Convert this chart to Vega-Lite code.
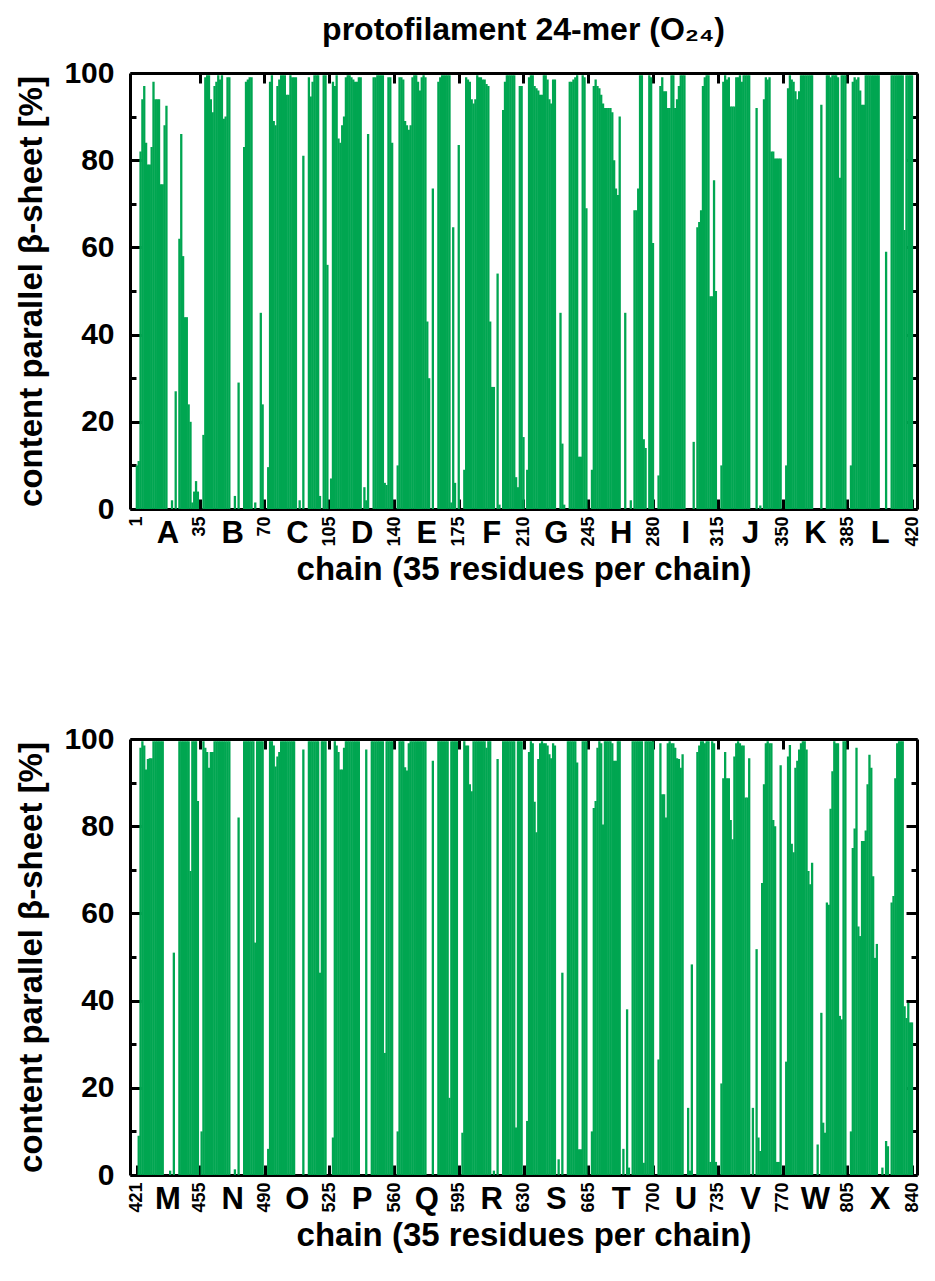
{
  "$schema": "https://vega.github.io/schema/vega-lite/v6.json",
  "background": "white",
  "padding": {"left": 15, "top": 14, "right": 5, "bottom": 5},
  "config": {
    "view": {"stroke": null},
    "font": "Liberation Sans",
    "axis": {
      "labelFont": "Liberation Sans", "labelFontWeight": "bold", "labelColor": "black",
      "titleFont": "Liberation Sans", "titleFontWeight": "bold", "titleColor": "black",
      "domainColor": "black", "tickColor": "black", "grid": false, "zindex": 1
    }
  },
  "datasets": {
    "top": [
      {"r":1,"v":10},{"r":2,"v":11},{"r":3,"v":82},{"r":4,"v":94},{"r":5,"v":97},{"r":6,"v":84},{"r":7,"v":79},{"r":8,"v":79},{"r":9,"v":83},{"r":10,"v":98},{"r":11,"v":94},{"r":12,"v":94},{"r":13,"v":94},{"r":14,"v":74.5},{"r":15,"v":74.5},{"r":16,"v":88},{"r":17,"v":92.5},{"r":18,"v":0},{"r":19,"v":0},{"r":20,"v":2},{"r":21,"v":0},{"r":22,"v":27},{"r":23,"v":0},{"r":24,"v":62},{"r":25,"v":86},{"r":26,"v":58},{"r":27,"v":44},{"r":28,"v":44},{"r":29,"v":24},{"r":30,"v":20},{"r":31,"v":1.5},{"r":32,"v":4},{"r":33,"v":6.4},{"r":34,"v":4},{"r":35,"v":0},
      {"r":36,"v":0},{"r":37,"v":17},{"r":38,"v":99},{"r":39,"v":99.5},{"r":40,"v":99.5},{"r":41,"v":94},{"r":42,"v":91},{"r":43,"v":97},{"r":44,"v":98},{"r":45,"v":99.5},{"r":46,"v":98.5},{"r":47,"v":99.5},{"r":48,"v":89.5},{"r":49,"v":90},{"r":50,"v":99},{"r":51,"v":99},{"r":52,"v":0},{"r":53,"v":0},{"r":54,"v":3},{"r":55,"v":0},{"r":56,"v":29},{"r":57,"v":0},{"r":58,"v":0},{"r":59,"v":83},{"r":60,"v":98},{"r":61,"v":98.5},{"r":62,"v":99},{"r":63,"v":99},{"r":64,"v":0},{"r":65,"v":1.5},{"r":66,"v":0},{"r":67,"v":0},{"r":68,"v":45},{"r":69,"v":24},{"r":70,"v":0},
      {"r":71,"v":0},{"r":72,"v":9.6},{"r":73,"v":98},{"r":74,"v":99.5},{"r":75,"v":89},{"r":76,"v":88},{"r":77,"v":97},{"r":78,"v":98.5},{"r":79,"v":99.5},{"r":80,"v":99.5},{"r":81,"v":99.5},{"r":82,"v":95},{"r":83,"v":95},{"r":84,"v":99.5},{"r":85,"v":99},{"r":86,"v":99},{"r":87,"v":99},{"r":88,"v":0},{"r":89,"v":2},{"r":90,"v":0},{"r":91,"v":81},{"r":92,"v":0},{"r":93,"v":0},{"r":94,"v":99},{"r":95,"v":94.6},{"r":96,"v":98},{"r":97,"v":99.5},{"r":98,"v":99.5},{"r":99,"v":99.5},{"r":100,"v":3},{"r":101,"v":0},{"r":102,"v":99.5},{"r":103,"v":99.5},{"r":104,"v":56},{"r":105,"v":0},
      {"r":106,"v":7},{"r":107,"v":98},{"r":108,"v":97},{"r":109,"v":99.5},{"r":110,"v":85},{"r":111,"v":84},{"r":112,"v":88},{"r":113,"v":90},{"r":114,"v":99},{"r":115,"v":99.5},{"r":116,"v":99.5},{"r":117,"v":99},{"r":118,"v":98.5},{"r":119,"v":98},{"r":120,"v":98},{"r":121,"v":99},{"r":122,"v":99},{"r":123,"v":0},{"r":124,"v":5},{"r":125,"v":2},{"r":126,"v":86},{"r":127,"v":0},{"r":128,"v":0},{"r":129,"v":99},{"r":130,"v":99},{"r":131,"v":99.5},{"r":132,"v":99.5},{"r":133,"v":99.5},{"r":134,"v":99.5},{"r":135,"v":6},{"r":136,"v":5.5},{"r":137,"v":99},{"r":138,"v":99},{"r":139,"v":84},{"r":140,"v":0},
      {"r":141,"v":0},{"r":142,"v":10},{"r":143,"v":99},{"r":144,"v":99},{"r":145,"v":98.5},{"r":146,"v":89},{"r":147,"v":88},{"r":148,"v":87},{"r":149,"v":88},{"r":150,"v":99},{"r":151,"v":99.5},{"r":152,"v":99.5},{"r":153,"v":98},{"r":154,"v":96},{"r":155,"v":99},{"r":156,"v":99.5},{"r":157,"v":99},{"r":158,"v":43},{"r":159,"v":30},{"r":160,"v":0},{"r":161,"v":73.5},{"r":162,"v":0},{"r":163,"v":0},{"r":164,"v":98},{"r":165,"v":99},{"r":166,"v":99.5},{"r":167,"v":99.5},{"r":168,"v":99.5},{"r":169,"v":99.5},{"r":170,"v":99.5},{"r":171,"v":1.5},{"r":172,"v":64.6},{"r":173,"v":6},{"r":174,"v":0},{"r":175,"v":83.5},
      {"r":176,"v":0},{"r":177,"v":0},{"r":178,"v":9},{"r":179,"v":99},{"r":180,"v":98.5},{"r":181,"v":98},{"r":182,"v":94},{"r":183,"v":93},{"r":184,"v":94},{"r":185,"v":99.5},{"r":186,"v":99},{"r":187,"v":99},{"r":188,"v":98.5},{"r":189,"v":98.5},{"r":190,"v":97.5},{"r":191,"v":97},{"r":192,"v":43},{"r":193,"v":28},{"r":194,"v":28},{"r":195,"v":0},{"r":196,"v":54},{"r":197,"v":1},{"r":198,"v":0},{"r":199,"v":91.5},{"r":200,"v":98},{"r":201,"v":99.5},{"r":202,"v":99.5},{"r":203,"v":99.5},{"r":204,"v":99.5},{"r":205,"v":99.5},{"r":206,"v":7.3},{"r":207,"v":5},{"r":208,"v":97},{"r":209,"v":97},{"r":210,"v":16.5},
      {"r":211,"v":0},{"r":212,"v":9},{"r":213,"v":99},{"r":214,"v":99.5},{"r":215,"v":99.5},{"r":216,"v":97},{"r":217,"v":96.5},{"r":218,"v":96},{"r":219,"v":95},{"r":220,"v":95},{"r":221,"v":99.5},{"r":222,"v":99.5},{"r":223,"v":98.5},{"r":224,"v":94},{"r":225,"v":93},{"r":226,"v":98.5},{"r":227,"v":98.5},{"r":228,"v":0},{"r":229,"v":0},{"r":230,"v":45},{"r":231,"v":15},{"r":232,"v":1},{"r":233,"v":0},{"r":234,"v":0},{"r":235,"v":98},{"r":236,"v":98},{"r":237,"v":98.5},{"r":238,"v":99},{"r":239,"v":99.5},{"r":240,"v":12},{"r":241,"v":12},{"r":242,"v":99.5},{"r":243,"v":99},{"r":244,"v":69},{"r":245,"v":0},
      {"r":246,"v":0},{"r":247,"v":9},{"r":248,"v":97},{"r":249,"v":98.5},{"r":250,"v":97},{"r":251,"v":96.5},{"r":252,"v":95},{"r":253,"v":93},{"r":254,"v":92},{"r":255,"v":92},{"r":256,"v":92},{"r":257,"v":92},{"r":258,"v":91},{"r":259,"v":80},{"r":260,"v":73.5},{"r":261,"v":72},{"r":262,"v":90},{"r":263,"v":0},{"r":264,"v":0},{"r":265,"v":45},{"r":266,"v":0},{"r":267,"v":0},{"r":268,"v":2},{"r":269,"v":0},{"r":270,"v":68.5},{"r":271,"v":68.5},{"r":272,"v":73.5},{"r":273,"v":99.5},{"r":274,"v":99.5},{"r":275,"v":16},{"r":276,"v":14},{"r":277,"v":0},{"r":278,"v":99.5},{"r":279,"v":99},{"r":280,"v":61},
      {"r":281,"v":0},{"r":282,"v":0},{"r":283,"v":7.7},{"r":284,"v":97},{"r":285,"v":99},{"r":286,"v":95.8},{"r":287,"v":95.8},{"r":288,"v":92},{"r":289,"v":92},{"r":290,"v":99.5},{"r":291,"v":99.5},{"r":292,"v":92},{"r":293,"v":94},{"r":294,"v":97},{"r":295,"v":99.5},{"r":296,"v":99.5},{"r":297,"v":99.5},{"r":298,"v":0},{"r":299,"v":0},{"r":300,"v":0},{"r":301,"v":0},{"r":302,"v":15.4},{"r":303,"v":0},{"r":304,"v":64.6},{"r":305,"v":65.8},{"r":306,"v":68.5},{"r":307,"v":97},{"r":308,"v":99},{"r":309,"v":99.5},{"r":310,"v":99.5},{"r":311,"v":48.8},{"r":312,"v":48.8},{"r":313,"v":75.4},{"r":314,"v":50},{"r":315,"v":0},
      {"r":316,"v":0},{"r":317,"v":10},{"r":318,"v":98},{"r":319,"v":99.5},{"r":320,"v":98.5},{"r":321,"v":99},{"r":322,"v":92.3},{"r":323,"v":92.3},{"r":324,"v":92.3},{"r":325,"v":99},{"r":326,"v":99},{"r":327,"v":99.5},{"r":328,"v":98},{"r":329,"v":99.5},{"r":330,"v":99.5},{"r":331,"v":99.5},{"r":332,"v":99.5},{"r":333,"v":0},{"r":334,"v":0},{"r":335,"v":0},{"r":336,"v":92},{"r":337,"v":0},{"r":338,"v":0.8},{"r":339,"v":0},{"r":340,"v":94},{"r":341,"v":99},{"r":342,"v":98.5},{"r":343,"v":99},{"r":344,"v":82},{"r":345,"v":82},{"r":346,"v":80.4},{"r":347,"v":80.4},{"r":348,"v":80.4},{"r":349,"v":80.4},{"r":350,"v":0},
      {"r":351,"v":0},{"r":352,"v":10},{"r":353,"v":96.5},{"r":354,"v":99.5},{"r":355,"v":98.5},{"r":356,"v":98},{"r":357,"v":95.8},{"r":358,"v":94},{"r":359,"v":95.8},{"r":360,"v":99.5},{"r":361,"v":99.5},{"r":362,"v":99.5},{"r":363,"v":99.5},{"r":364,"v":99.5},{"r":365,"v":99.5},{"r":366,"v":99.5},{"r":367,"v":0},{"r":368,"v":0},{"r":369,"v":0},{"r":370,"v":0},{"r":371,"v":92.7},{"r":372,"v":0},{"r":373,"v":0},{"r":374,"v":99.5},{"r":375,"v":99.5},{"r":376,"v":99},{"r":377,"v":99.5},{"r":378,"v":99.5},{"r":379,"v":99.5},{"r":380,"v":99},{"r":381,"v":76},{"r":382,"v":99.5},{"r":383,"v":99.5},{"r":384,"v":99.5},{"r":385,"v":0},
      {"r":386,"v":0},{"r":387,"v":10},{"r":388,"v":98},{"r":389,"v":99},{"r":390,"v":98.5},{"r":391,"v":99},{"r":392,"v":96},{"r":393,"v":92.7},{"r":394,"v":92.7},{"r":395,"v":99.5},{"r":396,"v":99.5},{"r":397,"v":99.5},{"r":398,"v":99.5},{"r":399,"v":99.5},{"r":400,"v":99.5},{"r":401,"v":99.5},{"r":402,"v":99.5},{"r":403,"v":0},{"r":404,"v":0},{"r":405,"v":0},{"r":406,"v":59},{"r":407,"v":0},{"r":408,"v":0},{"r":409,"v":99.5},{"r":410,"v":99.5},{"r":411,"v":99.5},{"r":412,"v":99.5},{"r":413,"v":99.5},{"r":414,"v":99.5},{"r":415,"v":99.5},{"r":416,"v":64},{"r":417,"v":99.5},{"r":418,"v":99.5},{"r":419,"v":99.5},{"r":420,"v":99.5}
    ],
    "bottom": [
      {"r":421,"v":0},{"r":422,"v":9},{"r":423,"v":98},{"r":424,"v":99.5},{"r":425,"v":98.5},{"r":426,"v":93},{"r":427,"v":95.4},{"r":428,"v":95.6},{"r":429,"v":95.6},{"r":430,"v":99.5},{"r":431,"v":99.5},{"r":432,"v":99.5},{"r":433,"v":99.5},{"r":434,"v":99.5},{"r":435,"v":99.5},{"r":436,"v":0},{"r":437,"v":0},{"r":438,"v":0},{"r":439,"v":1},{"r":440,"v":0},{"r":441,"v":51},{"r":442,"v":0},{"r":443,"v":0},{"r":444,"v":99.5},{"r":445,"v":99.5},{"r":446,"v":99.5},{"r":447,"v":99.5},{"r":448,"v":99.5},{"r":449,"v":99.5},{"r":450,"v":69.7},{"r":451,"v":99.5},{"r":452,"v":99.5},{"r":453,"v":99.5},{"r":454,"v":85.8},{"r":455,"v":0},
      {"r":456,"v":10},{"r":457,"v":99.5},{"r":458,"v":98},{"r":459,"v":97},{"r":460,"v":93.4},{"r":461,"v":97},{"r":462,"v":97},{"r":463,"v":99.5},{"r":464,"v":99.5},{"r":465,"v":99.5},{"r":466,"v":99.5},{"r":467,"v":99.5},{"r":468,"v":99.5},{"r":469,"v":99.5},{"r":470,"v":99.5},{"r":471,"v":99.5},{"r":472,"v":0},{"r":473,"v":0},{"r":474,"v":1.3},{"r":475,"v":0},{"r":476,"v":82},{"r":477,"v":0},{"r":478,"v":0},{"r":479,"v":99.5},{"r":480,"v":99.5},{"r":481,"v":99.5},{"r":482,"v":99.5},{"r":483,"v":99.5},{"r":484,"v":99.5},{"r":485,"v":53.3},{"r":486,"v":99.5},{"r":487,"v":99.5},{"r":488,"v":99.5},{"r":489,"v":99.5},{"r":490,"v":0},
      {"r":491,"v":0},{"r":492,"v":6},{"r":493,"v":99.5},{"r":494,"v":99.5},{"r":495,"v":98.5},{"r":496,"v":93.7},{"r":497,"v":96},{"r":498,"v":97},{"r":499,"v":99.5},{"r":500,"v":99.5},{"r":501,"v":99.5},{"r":502,"v":99.5},{"r":503,"v":99.5},{"r":504,"v":99.5},{"r":505,"v":99.5},{"r":506,"v":99.5},{"r":507,"v":0},{"r":508,"v":0},{"r":509,"v":0},{"r":510,"v":0},{"r":511,"v":97.6},{"r":512,"v":0},{"r":513,"v":0},{"r":514,"v":99.5},{"r":515,"v":99.5},{"r":516,"v":99.5},{"r":517,"v":99.5},{"r":518,"v":99.5},{"r":519,"v":99.5},{"r":520,"v":46.4},{"r":521,"v":99.5},{"r":522,"v":99.5},{"r":523,"v":99.5},{"r":524,"v":0},{"r":525,"v":0},
      {"r":526,"v":0},{"r":527,"v":8.6},{"r":528,"v":99.5},{"r":529,"v":98.5},{"r":530,"v":97},{"r":531,"v":93},{"r":532,"v":93},{"r":533,"v":98},{"r":534,"v":99.5},{"r":535,"v":99.5},{"r":536,"v":99.5},{"r":537,"v":99.5},{"r":538,"v":99.5},{"r":539,"v":99.5},{"r":540,"v":99.5},{"r":541,"v":99.5},{"r":542,"v":0},{"r":543,"v":0},{"r":544,"v":0},{"r":545,"v":97.6},{"r":546,"v":0},{"r":547,"v":0},{"r":548,"v":99.5},{"r":549,"v":99.5},{"r":550,"v":99.5},{"r":551,"v":99.5},{"r":552,"v":99.5},{"r":553,"v":99.5},{"r":554,"v":99.5},{"r":555,"v":28},{"r":556,"v":99.5},{"r":557,"v":99.5},{"r":558,"v":99.5},{"r":559,"v":99.5},{"r":560,"v":0},
      {"r":561,"v":0},{"r":562,"v":10},{"r":563,"v":99.5},{"r":564,"v":99.5},{"r":565,"v":99.5},{"r":566,"v":93.5},{"r":567,"v":92.8},{"r":568,"v":99},{"r":569,"v":99.5},{"r":570,"v":99.5},{"r":571,"v":99.5},{"r":572,"v":99.5},{"r":573,"v":99.5},{"r":574,"v":99.5},{"r":575,"v":99.5},{"r":576,"v":99.5},{"r":577,"v":99.5},{"r":578,"v":0},{"r":579,"v":0},{"r":580,"v":0},{"r":581,"v":95},{"r":582,"v":0},{"r":583,"v":0},{"r":584,"v":99.5},{"r":585,"v":99.5},{"r":586,"v":99.5},{"r":587,"v":99.5},{"r":588,"v":99.5},{"r":589,"v":99.5},{"r":590,"v":17.7},{"r":591,"v":99.5},{"r":592,"v":99.5},{"r":593,"v":99.5},{"r":594,"v":99.5},{"r":595,"v":0},
      {"r":596,"v":0},{"r":597,"v":9.7},{"r":598,"v":99.5},{"r":599,"v":98.5},{"r":600,"v":98.5},{"r":601,"v":89.6},{"r":602,"v":88},{"r":603,"v":99.5},{"r":604,"v":99.5},{"r":605,"v":99.5},{"r":606,"v":99.5},{"r":607,"v":99.5},{"r":608,"v":99.5},{"r":609,"v":99.5},{"r":610,"v":98},{"r":611,"v":99.5},{"r":612,"v":99.5},{"r":613,"v":0},{"r":614,"v":1},{"r":615,"v":0},{"r":616,"v":95.4},{"r":617,"v":0},{"r":618,"v":0},{"r":619,"v":99.5},{"r":620,"v":99.5},{"r":621,"v":99.5},{"r":622,"v":99.5},{"r":623,"v":99.5},{"r":624,"v":99.5},{"r":625,"v":99.5},{"r":626,"v":10.9},{"r":627,"v":99.5},{"r":628,"v":99.5},{"r":629,"v":99.5},{"r":630,"v":0},
      {"r":631,"v":0},{"r":632,"v":12.4},{"r":633,"v":97},{"r":634,"v":99.5},{"r":635,"v":99},{"r":636,"v":85.6},{"r":637,"v":78.6},{"r":638,"v":95.4},{"r":639,"v":99},{"r":640,"v":99.5},{"r":641,"v":99},{"r":642,"v":99},{"r":643,"v":98.5},{"r":644,"v":96.5},{"r":645,"v":95.6},{"r":646,"v":99},{"r":647,"v":98.5},{"r":648,"v":0},{"r":649,"v":3.6},{"r":650,"v":0},{"r":651,"v":46.4},{"r":652,"v":0},{"r":653,"v":0},{"r":654,"v":99.5},{"r":655,"v":99.5},{"r":656,"v":99.5},{"r":657,"v":99.5},{"r":658,"v":99.5},{"r":659,"v":94.6},{"r":660,"v":5.9},{"r":661,"v":5.9},{"r":662,"v":99.5},{"r":663,"v":99.5},{"r":664,"v":99.5},{"r":665,"v":0},
      {"r":666,"v":0},{"r":667,"v":10},{"r":668,"v":84.2},{"r":669,"v":85.8},{"r":670,"v":98},{"r":671,"v":99.5},{"r":672,"v":99},{"r":673,"v":80.4},{"r":674,"v":99.5},{"r":675,"v":99.5},{"r":676,"v":99.5},{"r":677,"v":99.5},{"r":678,"v":99},{"r":679,"v":95},{"r":680,"v":95},{"r":681,"v":99.5},{"r":682,"v":99.5},{"r":683,"v":0},{"r":684,"v":6},{"r":685,"v":0},{"r":686,"v":38},{"r":687,"v":1.7},{"r":688,"v":0},{"r":689,"v":99.5},{"r":690,"v":99.5},{"r":691,"v":99.5},{"r":692,"v":99.5},{"r":693,"v":99.5},{"r":694,"v":99.5},{"r":695,"v":2.8},{"r":696,"v":99.5},{"r":697,"v":99.5},{"r":698,"v":99.5},{"r":699,"v":99.5},{"r":700,"v":99.5},
      {"r":701,"v":0},{"r":702,"v":0},{"r":703,"v":26.5},{"r":704,"v":99},{"r":705,"v":87.3},{"r":706,"v":87.3},{"r":707,"v":82},{"r":708,"v":99},{"r":709,"v":99.5},{"r":710,"v":99},{"r":711,"v":99},{"r":712,"v":98},{"r":713,"v":95.6},{"r":714,"v":95.4},{"r":715,"v":93.4},{"r":716,"v":96.5},{"r":717,"v":0},{"r":718,"v":0},{"r":719,"v":15.4},{"r":720,"v":1},{"r":721,"v":48.3},{"r":722,"v":0},{"r":723,"v":0},{"r":724,"v":97},{"r":725,"v":98.5},{"r":726,"v":99.5},{"r":727,"v":99.5},{"r":728,"v":99},{"r":729,"v":99.5},{"r":730,"v":99.5},{"r":731,"v":3},{"r":732,"v":99.5},{"r":733,"v":99},{"r":734,"v":3},{"r":735,"v":0},
      {"r":736,"v":0},{"r":737,"v":21},{"r":738,"v":91},{"r":739,"v":97},{"r":740,"v":91},{"r":741,"v":91},{"r":742,"v":81.4},{"r":743,"v":77},{"r":744,"v":96},{"r":745,"v":99},{"r":746,"v":99.5},{"r":747,"v":99},{"r":748,"v":98.5},{"r":749,"v":98.5},{"r":750,"v":86.6},{"r":751,"v":86.6},{"r":752,"v":95.6},{"r":753,"v":0},{"r":754,"v":15.4},{"r":755,"v":0},{"r":756,"v":51.8},{"r":757,"v":8.6},{"r":758,"v":5.5},{"r":759,"v":67},{"r":760,"v":89.6},{"r":761,"v":99},{"r":762,"v":99.5},{"r":763,"v":99},{"r":764,"v":99},{"r":765,"v":81.4},{"r":766,"v":80},{"r":767,"v":3},{"r":768,"v":3},{"r":769,"v":94},{"r":770,"v":0},
      {"r":771,"v":0},{"r":772,"v":26},{"r":773,"v":96},{"r":774,"v":98.6},{"r":775,"v":76},{"r":776,"v":74},{"r":777,"v":93.4},{"r":778,"v":95},{"r":779,"v":97.6},{"r":780,"v":99},{"r":781,"v":99.5},{"r":782,"v":99.5},{"r":783,"v":97.6},{"r":784,"v":69.7},{"r":785,"v":66.7},{"r":786,"v":71.6},{"r":787,"v":0},{"r":788,"v":0},{"r":789,"v":7},{"r":790,"v":0},{"r":791,"v":37.2},{"r":792,"v":12},{"r":793,"v":9.7},{"r":794,"v":62.5},{"r":795,"v":62},{"r":796,"v":84},{"r":797,"v":92.6},{"r":798,"v":99.5},{"r":799,"v":99},{"r":800,"v":99},{"r":801,"v":36.5},{"r":802,"v":35.7},{"r":803,"v":99.5},{"r":804,"v":99.5},{"r":805,"v":0},
      {"r":806,"v":0},{"r":807,"v":10},{"r":808,"v":75},{"r":809,"v":79.5},{"r":810,"v":98},{"r":811,"v":57},{"r":812,"v":54.8},{"r":813,"v":76.6},{"r":814,"v":76.6},{"r":815,"v":79},{"r":816,"v":89.6},{"r":817,"v":96.4},{"r":818,"v":93.4},{"r":819,"v":68.5},{"r":820,"v":49.8},{"r":821,"v":53},{"r":822,"v":0},{"r":823,"v":0},{"r":824,"v":1.7},{"r":825,"v":0},{"r":826,"v":7.8},{"r":827,"v":6.6},{"r":828,"v":0},{"r":829,"v":62.5},{"r":830,"v":64},{"r":831,"v":91},{"r":832,"v":99},{"r":833,"v":99.5},{"r":834,"v":99.5},{"r":835,"v":99.5},{"r":836,"v":38.7},{"r":837,"v":36},{"r":838,"v":39.5},{"r":839,"v":35},{"r":840,"v":35}
    ]
  },
  "bounds": "flush",
  "spacing": 230,
  "vconcat": [
    {
      "width": 787,
      "height": 436,
      "title": {"text": "protofilament 24-mer (O₂₄)", "font": "Liberation Sans", "fontSize": 32, "fontWeight": "bold", "color": "black", "frame": "group", "anchor": "middle", "offset": 11},
      "data": {"name": "top"},
      "encoding": {
        "x": {"field": "r", "type": "quantitative", "scale": {"domain": [0, 420], "nice": false, "zero": false}},
        "y": {"field": "v", "type": "quantitative", "scale": {"domain": [0, 100], "nice": false}}
      },
      "resolve": {"axis": {"x": "independent", "y": "independent"}},
      "layer": [
        {
          "mark": {"type": "bar", "color": "#00A651", "width": 2.3, "clip": true},
          "encoding": {
            "x": {"field": "r", "type": "quantitative",
                  "axis": {"orient": "bottom", "values": [1, 35, 70, 105, 140, 175, 210, 245, 280, 315, 350, 385, 420], "labelAngle": 270, "labelFontSize": 18, "labelFlush": false, "labelOverlap": false, "labelPadding": 17, "tickSize": -10, "tickWidth": 3, "domainWidth": 3, "title": null}},
            "y": {"field": "v", "type": "quantitative",
                  "axis": {"orient": "left", "values": [0, 20, 40, 60, 80, 100], "labelFontSize": 30, "labelPadding": 27, "labelFlush": false, "labelOverlap": false, "tickSize": -11, "tickWidth": 3, "domainWidth": 3, "title": "content parallel β-sheet [%]", "titleFontSize": 33, "titlePadding": 15}}
          }
        },
        {
          "mark": {"type": "point", "opacity": 0},
          "encoding": {
            "x": {"field": "r", "type": "quantitative",
                  "axis": {"orient": "top", "values": [35, 70, 105, 140, 175, 210, 245, 280, 315, 350, 385], "labels": false, "tickSize": -10, "tickWidth": 3, "domainWidth": 3, "title": null}},
            "y": {"field": "v", "type": "quantitative",
                  "axis": {"orient": "right", "values": [0, 20, 40, 60, 80, 100], "labels": false, "tickSize": -11, "tickWidth": 3, "domainWidth": 3, "title": null}}
          }
        },
        {
          "mark": {"type": "point", "opacity": 0},
          "encoding": {
            "x": {"field": "r", "type": "quantitative",
                  "axis": {"orient": "bottom", "values": [17.5, 52.5, 87.5, 122.5, 157.5, 192.5, 227.5, 262.5, 297.5, 332.5, 367.5, 402.5], "labelExpr": "substring('ABCDEFGHIJKLMNOPQRSTUVWX', floor(datum.value / 35), floor(datum.value / 35) + 1)", "labelAngle": 0, "labelFontSize": 31, "labelFlush": false, "labelOverlap": false, "labelPadding": 9, "ticks": false, "domain": false, "title": "chain (35 residues per chain)", "titleFontSize": 33, "titlePadding": 5}},
            "y": {"field": "v", "type": "quantitative",
                  "axis": {"orient": "left", "values": [10, 30, 50, 70, 90], "labels": false, "tickSize": -6, "tickWidth": 3, "domain": false, "title": null}}
          }
        },
        {
          "mark": {"type": "point", "opacity": 0},
          "encoding": {
            "x": {"field": "r", "type": "quantitative", "axis": null},
            "y": {"field": "v", "type": "quantitative",
                  "axis": {"orient": "right", "values": [10, 30, 50, 70, 90], "labels": false, "tickSize": -6, "tickWidth": 3, "domain": false, "title": null}}
          }
        }
      ]
    },
    {
      "width": 787,
      "height": 436,
      "data": {"name": "bottom"},
      "encoding": {
        "x": {"field": "r", "type": "quantitative", "scale": {"domain": [420, 840], "nice": false, "zero": false}},
        "y": {"field": "v", "type": "quantitative", "scale": {"domain": [0, 100], "nice": false}}
      },
      "resolve": {"axis": {"x": "independent", "y": "independent"}},
      "layer": [
        {
          "mark": {"type": "bar", "color": "#00A651", "width": 2.3, "clip": true},
          "encoding": {
            "x": {"field": "r", "type": "quantitative",
                  "axis": {"orient": "bottom", "values": [421, 455, 490, 525, 560, 595, 630, 665, 700, 735, 770, 805, 840], "labelAngle": 270, "labelFontSize": 18, "labelFlush": false, "labelOverlap": false, "labelPadding": 17, "tickSize": -10, "tickWidth": 3, "domainWidth": 3, "title": null}},
            "y": {"field": "v", "type": "quantitative",
                  "axis": {"orient": "left", "values": [0, 20, 40, 60, 80, 100], "labelFontSize": 30, "labelPadding": 27, "labelFlush": false, "labelOverlap": false, "tickSize": -11, "tickWidth": 3, "domainWidth": 3, "title": "content parallel β-sheet [%]", "titleFontSize": 33, "titlePadding": 15}}
          }
        },
        {
          "mark": {"type": "point", "opacity": 0},
          "encoding": {
            "x": {"field": "r", "type": "quantitative",
                  "axis": {"orient": "top", "values": [455, 490, 525, 560, 595, 630, 665, 700, 735, 770, 805], "labels": false, "tickSize": -10, "tickWidth": 3, "domainWidth": 3, "title": null}},
            "y": {"field": "v", "type": "quantitative",
                  "axis": {"orient": "right", "values": [0, 20, 40, 60, 80, 100], "labels": false, "tickSize": -11, "tickWidth": 3, "domainWidth": 3, "title": null}}
          }
        },
        {
          "mark": {"type": "point", "opacity": 0},
          "encoding": {
            "x": {"field": "r", "type": "quantitative",
                  "axis": {"orient": "bottom", "values": [437.5, 472.5, 507.5, 542.5, 577.5, 612.5, 647.5, 682.5, 717.5, 752.5, 787.5, 822.5], "labelExpr": "substring('ABCDEFGHIJKLMNOPQRSTUVWX', floor(datum.value / 35), floor(datum.value / 35) + 1)", "labelAngle": 0, "labelFontSize": 31, "labelFlush": false, "labelOverlap": false, "labelPadding": 9, "ticks": false, "domain": false, "title": "chain (35 residues per chain)", "titleFontSize": 33, "titlePadding": 5}},
            "y": {"field": "v", "type": "quantitative",
                  "axis": {"orient": "left", "values": [10, 30, 50, 70, 90], "labels": false, "tickSize": -6, "tickWidth": 3, "domain": false, "title": null}}
          }
        },
        {
          "mark": {"type": "point", "opacity": 0},
          "encoding": {
            "x": {"field": "r", "type": "quantitative", "axis": null},
            "y": {"field": "v", "type": "quantitative",
                  "axis": {"orient": "right", "values": [10, 30, 50, 70, 90], "labels": false, "tickSize": -6, "tickWidth": 3, "domain": false, "title": null}}
          }
        }
      ]
    }
  ]
}
